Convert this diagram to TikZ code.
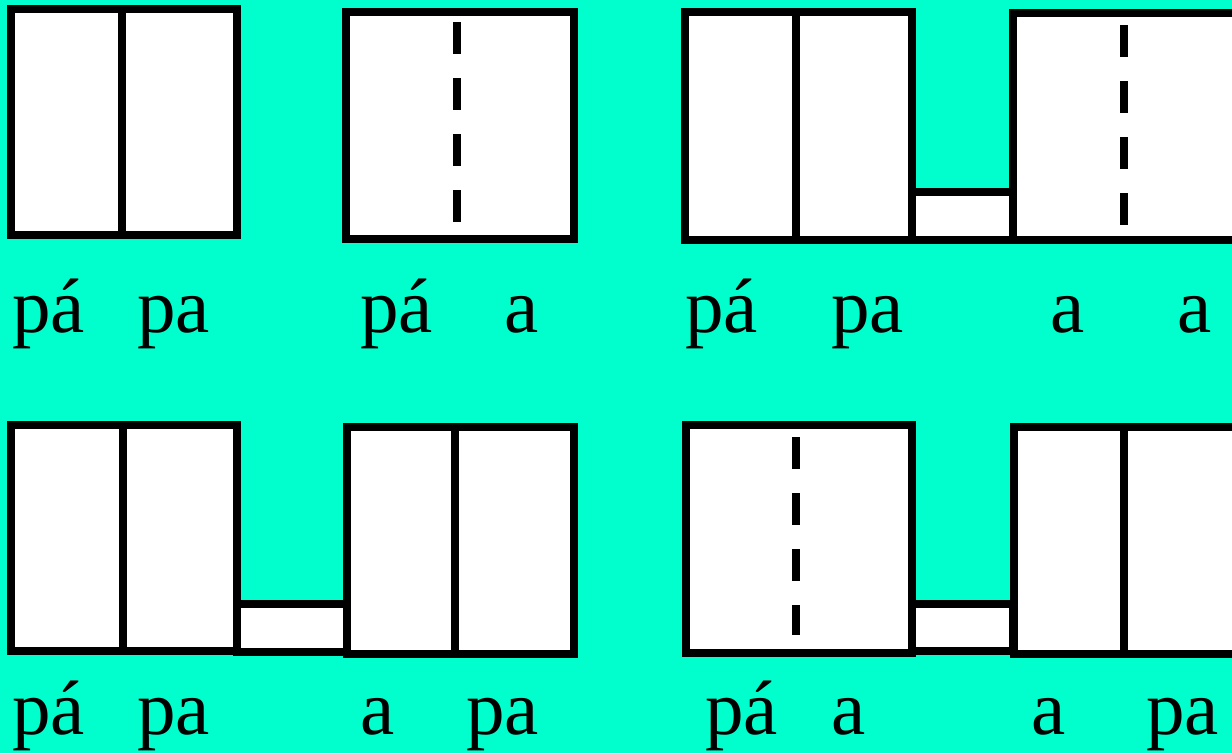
\documentclass[tikz,border=0pt]{standalone}
\usepackage{fontspec}
\setmainfont{Liberation Serif}
\definecolor{bgc}{RGB}{0,255,204}
\begin{document}
\begin{tikzpicture}[x=1pt,y=-1pt,
  box/.style={draw=black,fill=white,line width=8pt},
  div/.style={draw=black,line width=8pt},
  dsh/.style={draw=black,line width=8pt,dash pattern=on 32pt off 24pt},
  lbl/.style={anchor=base west,inner sep=0pt,font=\fontsize{77}{86}\selectfont}]
\fill[bgc] (0,0) rectangle (1232,753);
\useasboundingbox (0,0) rectangle (1232,753);
\clip (0,0) rectangle (1232,753);
% row 1, group 1
\draw[box] (11,9) rectangle (237,235);
\draw[div] (121.5,9) -- (121.5,235);
% row 1, group 2
\draw[box] (346,12) rectangle (574,239);
\draw[dsh] (457,22) -- (457,222);
% row 1, group 3
\draw[box] (912,192) rectangle (1013,240);
\draw[box] (685,12) rectangle (912,240);
\draw[div] (796,12) -- (796,240);
\draw[box] (1013,13) rectangle (1250,240);
\draw[dsh] (1124,25) -- (1124,225);
% row 2, group 1
\draw[box] (237,604) rectangle (347,652);
\draw[box] (11,425) rectangle (237,651);
\draw[div] (123,425) -- (123,651);
\draw[box] (347,427) rectangle (574,654);
\draw[div] (455,427) -- (455,654);
% row 2, group 2
\draw[box] (912,604) rectangle (1013,651);
\draw[box] (686,425) rectangle (912,653);
\draw[dsh] (796,437) -- (796,635);
\draw[box] (1014,427) rectangle (1250,654);
\draw[div] (1124,427) -- (1124,654);
% labels row 1
\node[lbl] (t1) at (12,332) {pá};
\node[lbl] (t2) at (137,332) {pa};
\node[lbl] (t3) at (360,332) {pá};
\node[lbl] (t4) at (504,332) {a};
\node[lbl] (t5) at (685,332) {pá};
\node[lbl] (t6) at (831,332) {pa};
\node[lbl] (t7) at (1050,332) {a};
\node[lbl] (t8) at (1177,332) {a};
% labels row 2
\node[lbl] (u1) at (12,734) {pá};
\node[lbl] (u2) at (137,734) {pa};
\node[lbl] (u3) at (360,734) {a};
\node[lbl] (u4) at (466,734) {pa};
\node[lbl] (u5) at (705,734) {pá};
\node[lbl] (u6) at (831,734) {a};
\node[lbl] (u7) at (1031,734) {a};
\node[lbl] (u8) at (1146,734) {pa};
\end{tikzpicture}
\end{document}
